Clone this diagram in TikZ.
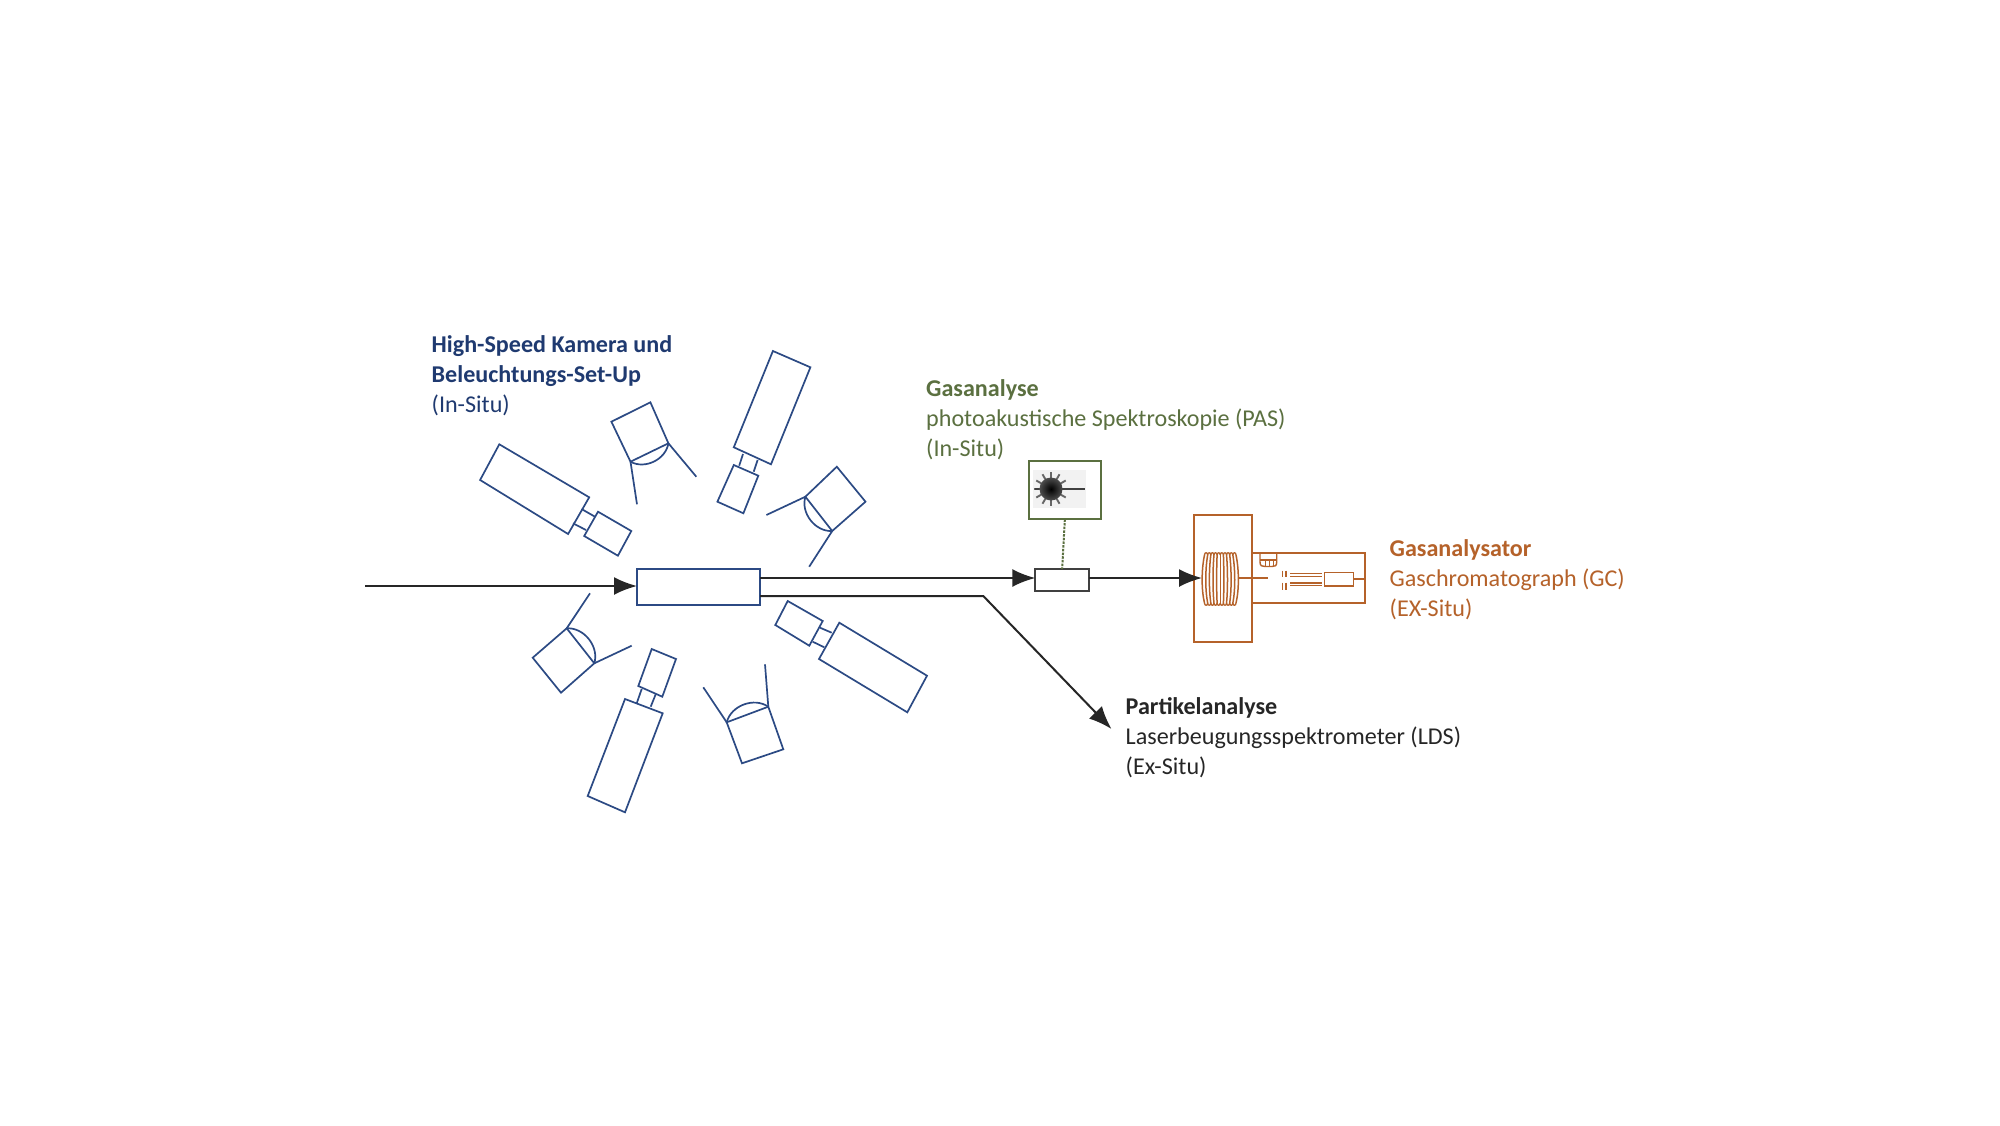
\documentclass[tikz,border=0pt]{standalone}
\usepackage{fontspec}
\setmainfont{Carlito}
\usetikzlibrary{arrows.meta}
\definecolor{navytext}{HTML}{1F3A70}
\definecolor{navyline}{HTML}{2C4A84}
\definecolor{greenc}{HTML}{5B7040}
\definecolor{orangec}{HTML}{B5622A}
\definecolor{darktext}{HTML}{262626}
\tikzset{
  cam/.style={draw=navyline,line width=1.7pt,line join=miter},
  flow/.style={draw=black!85,line width=2pt},
  flowarrow/.style={flow,-{Latex[length=23pt,width=18pt]}},
  orangebox/.style={draw=orangec,line width=1.8pt},
  label/.style={inner sep=0pt,anchor=north west,align=left,font=\fontsize{24.1}{30}\selectfont},
  boxnode/.style={inner sep=0pt,outer sep=0pt,anchor=north west},
}
\newcommand{\camquad}[4]{\draw[cam] #1 -- #2 -- #3 -- #4 -- cycle;}
\begin{document}
\begin{tikzpicture}[x=1pt,y=-1pt]
\useasboundingbox[fill=white] (0,0) rectangle (2000,1125);

% Cameras (upper left)
\camquad{(499.3,444.3)}{(589.2,497.3)}{(568.1,534)}{(480.1,480)}
\camquad{(598,511.7)}{(631.3,531)}{(617.9,555.7)}{(584.2,536)}
\draw[cam] (581.5,509) -- (595,516.7) (573,523.3) -- (586,530);
% upper middle
\camquad{(772.9,351)}{(810.4,367.3)}{(771,464.3)}{(733.8,447.3)}
\camquad{(733.8,465)}{(758.3,475.7)}{(743.4,513.3)}{(717.4,501.7)}
\draw[cam] (743,454) -- (739.2,465.7) (757.6,460) -- (753.7,471.7);
% lower right
\camquad{(787.7,601)}{(822.7,621)}{(809.3,645.7)}{(775.3,625)}
\camquad{(839.3,622.7)}{(927,675.7)}{(907.3,712.3)}{(819,659)}
\draw[cam] (820,627.7) -- (831.7,632.7) (812.7,641.7) -- (824.3,647.3);
% lower
\camquad{(651.7,649)}{(676,659)}{(662.3,696.7)}{(638.3,686)}
\camquad{(625,699)}{(662.7,713.3)}{(625,812.3)}{(587.7,796)}
\draw[cam] (641.7,689) -- (636.7,703.3) (655.7,694.3) -- (650.7,706.7);

% Lamps
\camquad{(611.4,421.7)}{(650.4,402.3)}{(668.4,443.3)}{(630.5,461.7)}
\draw[cam] (630.5,461.7) -- (637,504.3) (668.4,443.3) -- (696.3,476.7);
\draw[cam] (630.5,461.7) to[bend right=55] (668.4,443.3);

\camquad{(836.8,466.7)}{(865.5,501.7)}{(832.2,531)}{(805.4,496.7)}
\draw[cam] (805.4,496.7) -- (766.4,515) (832.2,531) -- (809.2,566.7);
\draw[cam] (805.4,496.7) to[bend right=55] (832.2,531);

\camquad{(566.7,628.3)}{(594.3,663.3)}{(561,692.7)}{(532.7,657.7)}
\draw[cam] (566.7,628.3) -- (590,593.3) (594.3,663.3) -- (631.7,645.7);
\draw[cam] (566.7,628.3) to[bend left=55] (594.3,663.3);

\camquad{(726.7,722.3)}{(768.3,706.7)}{(783.3,749.3)}{(742,763.3)}
\draw[cam] (726.7,722.3) -- (703.3,687.3) (768.3,706.7) -- (765,664.3);
\draw[cam] (726.7,722.3) to[bend left=55] (768.3,706.7);

% Main nodes
\node[boxnode,cam,fill=white,minimum width=123pt,minimum height=36pt] (reactor) at (637,569) {};
\node[boxnode,draw=black!75,line width=1.7pt,fill=white,minimum width=53.7pt,minimum height=22pt] (sampler) at (1035.3,569) {};
\node[boxnode,draw=greenc,line width=1.7pt,fill=white,minimum width=71.7pt,minimum height=58.3pt] (laser) at (1029,461) {};
\node[boxnode,orangebox,minimum width=58pt,minimum height=127.3pt] (cell) at (1193.7,515) {};
\node[boxnode,orangebox,minimum width=113.3pt,minimum height=50pt] (gc) at (1251.7,553.3) {};

\coordinate (start) at (365,586);
\coordinate (partikel) at (1111.5,729);
\coordinate (r1) at (760,578);
\coordinate (r2) at (760,596);
\coordinate (bend) at (983.3,596);
\coordinate (s1) at (1035.3,578);
\coordinate (s2) at (1089,578);
\coordinate (c1) at (1202,578);

% Flow
\draw[flowarrow] (start) -- (start -| reactor.west);
\draw[flowarrow] (r1) -- (s1);
\draw[flowarrow] (s2) -- (c1);
\draw[flow,-{Latex[length=23pt,width=18pt]}] (r2) -- (bend) -- (partikel);
\draw[draw=greenc,line width=2pt,dash pattern=on 2.5pt off 1.2pt] (laser.south) -- (sampler.north);

% Laser symbol
\fill[black!5] (1033,470) rectangle (1085.7,508.3);
\foreach \a in {0,30,...,330} {
  \draw[black!60,line width=1.9pt] (1051,489) -- ++(\a:17);
}
\draw[black!75,line width=2.4pt] (1035,489) -- (1085,489);
\shade[inner color=black,outer color=black!70,draw=none] (1051,489) circle (11.5);

% Coil
\foreach \i in {0,...,10} {
  \pgfmathsetmacro{\xc}{1204.5+3.15*\i}
  \pgfmathsetmacro{\bb}{(\xc-1220.25)*0.2}
  \draw[draw=orangec,line width=1.5pt] (\xc,555) .. controls ({\xc+\bb},570) and ({\xc+\bb},590) .. (\xc,603);
}
\foreach \i in {0,...,9} {
  \pgfmathsetmacro{\xc}{1204.5+3.15*\i}
  \pgfmathsetmacro{\xd}{\xc+3.15}
  \draw[draw=orangec,line width=1.3pt] (\xc,555) .. controls (\xc,552) and (\xd,552) .. (\xd,555);
  \draw[draw=orangec,line width=1.3pt] (\xc,603) .. controls (\xc,606) and (\xd,606) .. (\xd,603);
}

% GC details
\coordinate (coilout) at (1238.5,578);
\coordinate (inj) at (1267.7,578);
\draw[orangebox] (coilout) -- (inj);
\draw[draw=orangec,line width=1.4pt] (1260,554) -- (1260,562) .. controls (1260,566) and (1262,566.5) .. (1265,566.5) -- (1272,566.5) .. controls (1275,566.5) and (1276.7,566) .. (1276.7,562) -- (1276.7,554);
\draw[draw=orangec,line width=1.2pt] (1260,560) -- (1276.7,560);
\draw[draw=orangec,line width=1pt] (1265,560) -- (1265,566) (1269,560) -- (1269,566) (1273,560) -- (1273,566);
\draw[draw=orangec,line width=1.6pt] (1282.3,570.7) -- (1282.3,576.7) (1285.7,570.7) -- (1285.7,576.7)
  (1282.3,582.7) -- (1282.3,590) (1285.7,582.7) -- (1285.7,590);
\draw[draw=orangec,line width=1.3pt] (1290,573.3) -- (1321.7,573.3) (1290,576.7) -- (1321.7,576.7);
\draw[draw=orangec,line width=1.8pt] (1290,582.7) -- (1321.7,582.7) (1290,585.5) -- (1321.7,585.5);
\node[boxnode,draw=orangec,line width=1.6pt,minimum width=29pt,minimum height=13.4pt] (column) at (1324.3,572.3) {};
\draw[orangebox] (column.east) -- (column.east -| gc.east);

% Labels
\node[label,text=navytext] (ltcam) at (431.5,335) {\textbf{High-Speed Kamera und}\\\textbf{Beleuchtungs-Set-Up}\\(In-Situ)};
\node[label,text=greenc] (ltgas) at (926,379) {\textbf{Gasanalyse}\\photoakustische Spektroskopie (PAS)\\(In-Situ)};
\node[label,text=orangec] (ltgc) at (1389.5,539.5) {\textbf{Gasanalysator}\\Gaschromatograph (GC)\\(EX-Situ)};
\node[label,text=darktext] (ltlds) at (1125.5,697) {\textbf{Partikelanalyse}\\Laserbeugungsspektrometer (LDS)\\(Ex-Situ)};
\end{tikzpicture}
\end{document}
